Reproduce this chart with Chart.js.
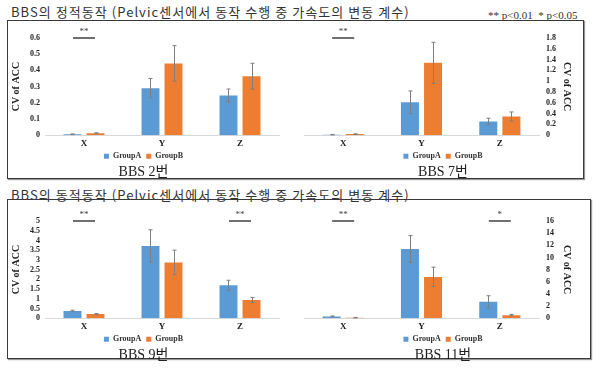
<!DOCTYPE html>
<html>
<head>
<meta charset="utf-8">
<script src="https://cdn.jsdelivr.net/npm/chart.js@4"></script>
<style>
  body { margin: 0; background: #fff; width: 600px; height: 369px; position: relative; overflow: hidden; }
  .head { position: absolute; font-family: "Noto Sans CJK KR", "Noto Sans", sans-serif; font-size: 13px; letter-spacing: 1.05px; color: #333; white-space: nowrap; }
  .note { position: absolute; font-family: "Liberation Serif", serif; font-size: 11px; color: #333; white-space: nowrap; }
  .box { position: absolute; border: 1px solid #3a3a3a; box-shadow: 1px 1px 1px #999; }
  canvas { position: absolute; }
</style>
</head>
<body>
<div class="head" style="left:11px; top:2px;">BBS의 정적동작 (Pelvic센서에서 동작 수행 중 가속도의 변동 계수)</div>
<div class="note" style="left:488px; top:9px;">** p&lt;0.01&nbsp;&nbsp;* p&lt;0.05</div>
<div class="box" style="left:7px; top:20px; width:575px; height:157px;"></div>
<div class="head" style="left:11px; top:185px;">BBS의 동적동작 (Pelvic센서에서 동작 수행 중 가속도의 변동 계수)</div>
<div class="box" style="left:7px; top:199px; width:582px; height:158px;"></div>

<canvas id="bbs2" width="300" height="162" style="left:8px; top:21px;"></canvas>
<canvas id="bbs7" width="302" height="162" style="left:280px; top:21px;"></canvas>
<canvas id="bbs9" width="300" height="162" style="left:8px; top:204px;"></canvas>
<canvas id="bbs11" width="302" height="162" style="left:280px; top:204px;"></canvas>

<script>
var categories = ['X', 'Y', 'Z'];

// BBS 2번 (static)
var bbs2A = [0.006, 0.29, 0.245];
var bbs2B = [0.012, 0.443, 0.364];
var bbs2AErr = [0.002, 0.06, 0.04];
var bbs2BErr = [0.003, 0.11, 0.08];
var bbs2Sig = ['**', '', ''];

// BBS 7번 (static)
var bbs7A = [0.01, 0.61, 0.255];
var bbs7B = [0.02, 1.34, 0.345];
var bbs7AErr = [0.004, 0.21, 0.06];
var bbs7BErr = [0.006, 0.38, 0.085];
var bbs7Sig = ['**', '', ''];

// BBS 9번 (dynamic)
var bbs9A = [0.37, 3.72, 1.69];
var bbs9B = [0.21, 2.87, 0.94];
var bbs9AErr = [0.04, 0.83, 0.26];
var bbs9BErr = [0.03, 0.63, 0.13];
var bbs9Sig = ['**', '', '**'];

// BBS 11번 (dynamic)
var bbs11A = [0.3, 11.4, 2.7];
var bbs11B = [0.08, 6.8, 0.5];
var bbs11AErr = [0.08, 2.2, 1.0];
var bbs11BErr = [0.05, 1.6, 0.12];
var bbs11Sig = ['**', '', '*'];

var blue = '#5b9bd5';
var orange = '#ed7d31';
var serif = "'Liberation Serif', 'Noto Sans CJK KR', serif";

// error bars + significance marks
var extras = {
    id: 'extras',
    afterDatasetsDraw: function(chart) {
        var c = chart.ctx;
        var y = chart.scales.y;
        var x = chart.scales.x;
        var errs = chart.options.plugins.extras.errs;
        c.save();
        c.strokeStyle = '#7f7f7f';
        c.lineWidth = 1;
        chart.data.datasets.forEach(function(ds, i) {
            chart.getDatasetMeta(i).data.forEach(function(bar, j) {
                var v = ds.data[j], e = errs[i][j];
                var y1 = y.getPixelForValue(v + e), y2 = y.getPixelForValue(v - e);
                var bx = Math.round(bar.x) + 0.5;
                c.beginPath();
                c.moveTo(bx, y1); c.lineTo(bx, y2);
                c.moveTo(bx - 2, y1); c.lineTo(bx + 2, y1);
                c.moveTo(bx - 2, y2); c.lineTo(bx + 2, y2);
                c.stroke();
            });
        });
        var sig = chart.options.plugins.extras.sig;
        c.strokeStyle = '#404040';
        c.lineWidth = 1.5;
        c.fillStyle = '#404040';
        c.font = '9px ' + serif;
        c.textAlign = 'center';
        c.textBaseline = 'middle';
        sig.forEach(function(s, j) {
            if (!s) return;
            var cx = x.getPixelForValue(j);
            var ly = chart.chartArea.top;
            c.beginPath();
            c.moveTo(cx - 11, ly); c.lineTo(cx + 11, ly);
            c.stroke();
            c.fillText(s, cx, ly - 6);
        });
        c.restore();
    }
};

function makeChart(id, a, b, ea, eb, sig, max, step, side, title) {
    var left = side === 'left';
    new Chart(id, {
        type: 'bar',
        data: {
            labels: categories,
            datasets: [
                { label: 'GroupA', data: a, backgroundColor: blue },
                { label: 'GroupB', data: b, backgroundColor: orange }
            ]
        },
        options: {
            responsive: false,
            animation: false,
            categoryPercentage: 0.59,
            barPercentage: 0.78,
            layout: { padding: { top: 17, left: left ? 0 : 24, right: left ? 29 : 0, bottom: 0 } },
            scales: {
                x: {
                    grid: { display: false, drawTicks: false },
                    border: { color: '#d9d9d9' },
                    ticks: { color: '#222', padding: 6, maxRotation: 0, font: { family: serif, size: 9, weight: 'bold', lineHeight: 0.45 } },
                    afterFit: function(s) { s.height = 12; }
                },
                y: {
                    position: side,
                    min: 0, max: max,
                    grid: { display: false, drawTicks: false },
                    border: { display: false },
                    ticks: {
                        stepSize: step,
                        autoSkip: false,
                        padding: left ? 5 : 7,
                        color: '#222',
                        font: { family: serif, size: 8, weight: 'bold' },
                        callback: function(v) { return +v.toFixed(2); }
                    },
                    title: {
                        display: true, text: 'CV of ACC', color: '#222',
                        padding: { top: left ? 2 : 9, bottom: 0 },
                        font: { family: serif, size: 10, weight: 'bold' }
                    },
                    afterFit: function(s) { s.width = left ? 37 : 43; }
                }
            },
            plugins: {
                legend: {
                    position: 'bottom',
                    labels: { boxWidth: 5, boxHeight: 5, padding: 5, color: '#333', font: { family: serif, size: 8, weight: 'bold' } }
                },
                title: {
                    display: true, position: 'bottom', text: title, color: '#222',
                    padding: { top: -6, bottom: 2 },
                    font: { family: serif, size: 14, weight: 'normal' }
                },
                tooltip: { enabled: false },
                extras: { errs: [ea, eb], sig: sig }
            }
        },
        plugins: [extras]
    });
}

makeChart('bbs2', bbs2A, bbs2B, bbs2AErr, bbs2BErr, bbs2Sig, 0.6, 0.1, 'left', 'BBS 2번');
makeChart('bbs7', bbs7A, bbs7B, bbs7AErr, bbs7BErr, bbs7Sig, 1.8, 0.2, 'right', 'BBS 7번');
makeChart('bbs9', bbs9A, bbs9B, bbs9AErr, bbs9BErr, bbs9Sig, 5, 0.5, 'left', 'BBS 9번');
makeChart('bbs11', bbs11A, bbs11B, bbs11AErr, bbs11BErr, bbs11Sig, 16, 2, 'right', 'BBS 11번');
</script>
</body>
</html>
